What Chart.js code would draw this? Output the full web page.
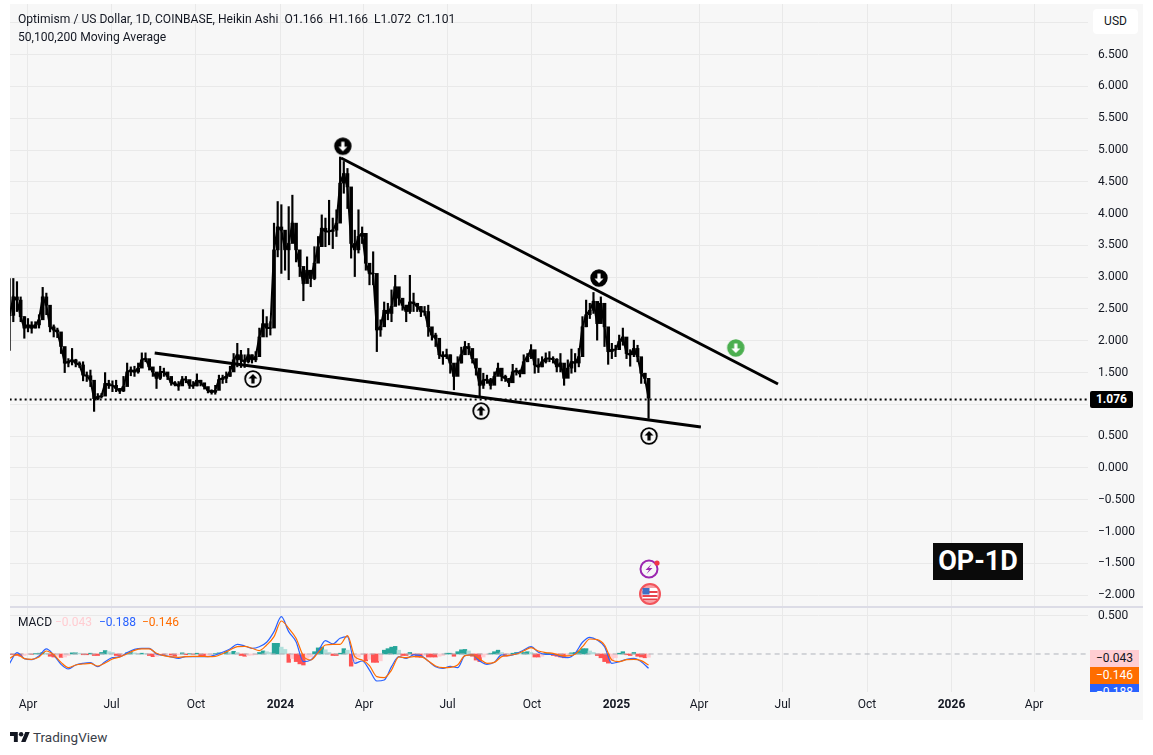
<!DOCTYPE html>
<html>
<head>
<meta charset="utf-8">
<title>OP-1D</title>
<script src="https://cdn.jsdelivr.net/npm/chart.js@4"></script>
<style>
  html, body { margin: 0; padding: 0; background: #fff; overflow: hidden; }
  body { width: 1153px; height: 755px; position: relative; font: 12px Roboto, sans-serif; color: #131722; }
  .abs { position: absolute; white-space: pre; }
  #pane { left: 10px; top: 4px; width: 1133px; height: 716px; background: #f7f7f7; }
  #priceBox { left: 10px; top: 4px; width: 1133px; height: 603px; }
  #macdBox { left: 10px; top: 607px; width: 1133px; height: 113px; }
  #divider { left: 10px; top: 606px; width: 1133px; height: 2px; background: #dcdce6; }
  #usd { left: 1093px; top: 9px; width: 45px; height: 25px; line-height: 25px; background: #fff; border-radius: 4px; text-align: center; }
  #lastTag { left: 1090px; top: 391px; width: 43px; height: 17px; line-height: 17px; background: #000; color: #fff; font-weight: 700; text-align: center; border-radius: 2px; }
  #opTag { left: 933px; top: 543px; width: 90px; height: 37px; line-height: 37px; background: #0a0a0a; color: #fff; font-size: 27px; font-weight: 700; text-align: center; }
  .macdTag { left: 1090px; width: 49px; height: 17px; line-height: 17px; text-align: center; }
  #macdClip { left: 0; top: 0; width: 1153px; height: 692px; overflow: hidden; }
</style>
</head>
<body>
<div class="abs" id="pane"></div>
<div class="abs" id="priceBox"><canvas id="priceChart"></canvas></div>
<div class="abs" id="macdBox"><canvas id="macdChart"></canvas></div>
<div class="abs" id="divider"></div>

<div class="abs" style="left:18px;top:12px;font-size:12.1px;">Optimism / US Dollar, 1D, COINBASE, Heikin Ashi  O1.166  H1.166  L1.072  C1.101</div>
<div class="abs" style="left:18px;top:30px;font-size:12.1px;">50,100,200 Moving Average</div>
<div class="abs" style="left:18px;top:615px;">MACD</div>
<div class="abs" style="left:55px;top:615px;color:#ffcdd2;">−0.043</div>
<div class="abs" style="left:99px;top:615px;color:#2962ff;">−0.188</div>
<div class="abs" style="left:142px;top:615px;color:#ff6d00;">−0.146</div>

<div class="abs" id="usd">USD</div>
<div class="abs" id="lastTag">1.076</div>
<div class="abs" id="opTag">OP-1D</div>
<div class="abs" id="macdClip">
  <div class="abs macdTag" style="top:650px;background:#ffcdd2;">−0.043</div>
  <div class="abs macdTag" style="top:667px;background:#ff6d00;color:#fff;">−0.146</div>
  <div class="abs macdTag" style="top:684px;background:#2962ff;color:#fff;">−0.188</div>
</div>

<svg class="abs" style="left:639px;top:558px;" width="24" height="24" viewBox="0 0 24 24">
  <circle cx="10" cy="11" r="8.5" fill="none" stroke="#9c27b0" stroke-width="2"/>
  <path d="M12.5 6 L6.5 12 H10 L7.5 16 L13.5 10 H10 Z" fill="#9c27b0"/>
  <circle cx="18" cy="5" r="2.6" fill="#f23645"/>
</svg>
<svg class="abs" style="left:638px;top:583px;" width="24" height="24" viewBox="0 0 24 24">
  <circle cx="12" cy="11" r="10" fill="#f7a1a6" stroke="#f2545b" stroke-width="2"/>
  <rect x="4.5" y="5" width="15" height="12" rx="2" fill="#fff"/>
  <path d="M4.5 8h15v2h-15zM4.5 12h15v2h-15zM5 15.5h14v1.5h-14z" fill="#e8434c"/>
  <rect x="4.5" y="5" width="7" height="6.5" fill="#3f6fc4"/>
</svg>

<svg class="abs" style="left:10px;top:732px;" width="20" height="10" viewBox="0 4 36 18">
  <path d="M14 22H7V11H0V4h14v18zM28 22h-8l7.5-18h8L28 22z" fill="#131722"/>
  <circle cx="20" cy="8" r="4" fill="#131722"/>
</svg>
<div class="abs" style="left:33px;top:729px;font-size:13.5px;color:#3a3e48;">TradingView</div>

<script>
// day numbers count from 1 Apr 2023
const firstCandleDay = -20;
const candleStepDays = 4;

const candleHigh = [
  2.98, 2.98, 2.93, 2.69, 2.38, 2.35, 2.30, 2.30, 2.41, 2.84, 2.75, 2.38, 2.25, 2.20, 2.09, 1.78, 1.72, 1.88, 1.71, 1.67,
  1.67, 1.51, 1.54, 1.33, 1.17, 1.17, 1.50, 1.38, 1.37, 1.38, 1.25, 1.44, 1.65, 1.59, 1.60, 1.65, 1.81, 1.81, 1.65, 1.57,
  1.49, 1.60, 1.57, 1.49, 1.38, 1.36, 1.36, 1.44, 1.44, 1.36, 1.36, 1.48, 1.38, 1.32, 1.27, 1.23, 1.30, 1.46, 1.46, 1.51,
  1.60, 1.80, 1.96, 1.85, 1.78, 1.88, 1.78, 1.83, 2.20, 2.49, 2.38, 2.30, 3.85, 4.19, 4.14, 3.69, 4.11, 4.29, 3.64, 3.32,
  3.11, 3.32, 3.06, 3.48, 3.64, 3.98, 3.93, 4.21, 3.93, 4.06, 4.89, 4.82, 4.71, 3.98, 3.74, 4.06, 3.79, 3.48, 3.17, 3.40,
  2.54, 2.33, 2.61, 2.59, 2.80, 3.03, 2.80, 2.64, 2.56, 3.03, 2.75, 2.59, 2.54, 2.54, 2.56, 2.17, 2.12, 1.86, 1.83, 1.87,
  1.78, 1.59, 1.75, 1.90, 1.99, 1.96, 1.78, 1.67, 1.49, 1.49, 1.46, 1.41, 1.51, 1.65, 1.51, 1.46, 1.41, 1.63, 1.57, 1.54,
  1.78, 1.80, 1.94, 1.75, 1.72, 1.75, 1.81, 1.83, 1.75, 1.72, 1.80, 1.54, 1.70, 1.87, 1.80, 1.88, 2.38, 2.64, 2.59, 2.76,
  2.48, 2.69, 2.54, 1.96, 1.96, 1.93, 2.09, 2.20, 1.88, 1.86, 2.01, 1.93, 1.65, 1.49, 1.33
];
const candleLow = [
  1.85, 2.30, 2.46, 2.30, 2.04, 2.14, 2.12, 2.20, 2.20, 2.38, 2.41, 2.14, 2.06, 2.05, 1.80, 1.50, 1.59, 1.62, 1.59, 1.58,
  1.37, 1.36, 1.28, 0.89, 1.07, 1.10, 1.20, 1.25, 1.20, 1.20, 1.17, 1.20, 1.36, 1.45, 1.44, 1.49, 1.58, 1.67, 1.54, 1.44,
  1.25, 1.39, 1.44, 1.39, 1.30, 1.29, 1.22, 1.33, 1.34, 1.25, 1.25, 1.29, 1.29, 1.24, 1.18, 1.16, 1.16, 1.32, 1.33, 1.34,
  1.44, 1.58, 1.59, 1.58, 1.58, 1.65, 1.65, 1.67, 1.78, 2.09, 2.06, 2.09, 2.69, 3.32, 3.06, 3.11, 2.96, 3.58, 3.24, 3.01,
  2.63, 2.96, 2.85, 2.96, 3.27, 3.53, 3.48, 3.51, 3.45, 3.64, 3.90, 4.32, 4.08, 3.30, 3.01, 3.38, 3.53, 3.11, 2.88, 2.88,
  1.83, 2.07, 2.33, 2.33, 2.30, 2.59, 2.56, 2.48, 2.30, 2.43, 2.46, 2.46, 2.38, 2.40, 2.07, 2.01, 1.91, 1.72, 1.63, 1.72,
  1.49, 1.23, 1.46, 1.65, 1.83, 1.78, 1.65, 1.46, 1.12, 1.25, 1.33, 1.24, 1.34, 1.49, 1.37, 1.36, 1.28, 1.37, 1.46, 1.43,
  1.54, 1.67, 1.72, 1.49, 1.50, 1.59, 1.65, 1.67, 1.65, 1.51, 1.51, 1.30, 1.44, 1.49, 1.51, 1.59, 1.80, 2.22, 2.35, 2.43,
  2.01, 2.41, 1.91, 1.63, 1.72, 1.75, 1.86, 1.93, 1.72, 1.60, 1.75, 1.67, 1.33, 1.33, 0.78
];
const candleClose = [
  2.40, 2.69, 2.64, 2.38, 2.20, 2.25, 2.20, 2.25, 2.33, 2.69, 2.56, 2.22, 2.17, 2.14, 1.91, 1.65, 1.67, 1.70, 1.65, 1.62,
  1.46, 1.45, 1.38, 1.09, 1.12, 1.13, 1.33, 1.30, 1.30, 1.25, 1.21, 1.28, 1.51, 1.54, 1.51, 1.57, 1.70, 1.72, 1.59, 1.51,
  1.41, 1.51, 1.51, 1.44, 1.34, 1.32, 1.29, 1.39, 1.39, 1.30, 1.29, 1.38, 1.34, 1.28, 1.22, 1.19, 1.22, 1.39, 1.41, 1.44,
  1.51, 1.70, 1.78, 1.70, 1.67, 1.78, 1.70, 1.75, 2.06, 2.27, 2.20, 2.20, 3.43, 3.79, 3.74, 3.43, 3.53, 3.85, 3.43, 3.17,
  2.90, 3.11, 2.98, 3.22, 3.48, 3.77, 3.72, 3.72, 3.74, 3.85, 4.48, 4.63, 4.42, 3.53, 3.43, 3.64, 3.69, 3.22, 3.06, 3.06,
  2.17, 2.22, 2.48, 2.43, 2.54, 2.85, 2.67, 2.56, 2.46, 2.61, 2.59, 2.54, 2.46, 2.46, 2.22, 2.09, 2.04, 1.78, 1.75, 1.78,
  1.65, 1.44, 1.65, 1.78, 1.91, 1.88, 1.72, 1.57, 1.30, 1.38, 1.39, 1.30, 1.44, 1.57, 1.44, 1.41, 1.34, 1.51, 1.53, 1.48,
  1.67, 1.75, 1.86, 1.62, 1.59, 1.67, 1.72, 1.72, 1.71, 1.59, 1.65, 1.41, 1.57, 1.67, 1.65, 1.75, 2.22, 2.41, 2.48, 2.62,
  2.27, 2.59, 2.22, 1.83, 1.86, 1.86, 1.99, 2.06, 1.80, 1.78, 1.88, 1.75, 1.49, 1.41, 1.10
];

const lastPrice = 1.076;
const lastPriceDays = [-20, 1160];

const resistanceDays = [341, 817];
const resistancePrices = [4.874, 1.321];
const supportDays = [138, 733];
const supportPrices = [1.808, 0.645];

const upSignalDays = [245, 493.5, 676.5];
const upSignalPrices = [1.40, 0.896, 0.503];
const downSignalDays = [343, 622];
const downSignalPrices = [5.06, 2.987];
const greenSignalDays = [771];
const greenSignalPrices = [1.887];

const priceTicks = [7, 6.5, 6, 5.5, 5, 4.5, 4, 3.5, 3, 2.5, 2, 1.5, 1, 0.5, 0, -0.5, -1, -1.5, -2];
const macdTicks = [0.5];

const monthTickDays = [0, 91, 183, 275, 366, 457, 549, 641, 731, 822, 914, 1006, 1096];
const monthTickLabels = ['Apr', 'Jul', 'Oct', '2024', 'Apr', 'Jul', 'Oct', '2025', 'Apr', 'Jul', 'Oct', '2026', 'Apr'];
const boldTickLabels = ['2024', '2025', '2026'];

const macdStepDays = 8;
const macdLine = [
  -0.123, 0.018, -0.061, -0.075, -0.026, 0.066, -0.013, -0.136, -0.197, -0.145, -0.123, -0.114, -0.167, -0.101, -0.048,
  -0.039, 0.018, 0.061, 0.075, 0.075, 0, -0.018, -0.039, -0.057, -0.035, -0.035, -0.035, -0.035, -0.013, 0.022,
  0.066, 0.127, 0.105, 0.075, 0.096, 0.154, 0.294, 0.491, 0.294, 0.162, -0.101, -0.079, 0.031, 0.175, 0.132,
  0.206, 0.228, -0.123, -0.092, -0.211, -0.355, -0.342, -0.167, -0.035, -0.057, -0.013, -0.022, -0.092, -0.167, -0.189,
  -0.162, -0.180, -0.022, -0.013, -0.092, -0.136, -0.110, -0.013, -0.022, 0.004, 0.053, 0.096, 0.022, -0.004, -0.004,
  -0.035, -0.048, 0.009, 0.154, 0.219, 0.184, 0.096, -0.123, -0.101, -0.070, -0.057, -0.101, -0.188
];
const signalLine = [
  -0.057, -0.004, -0.061, -0.070, -0.039, 0.039, -0.009, -0.110, -0.180, -0.145, -0.132, -0.123, -0.158, -0.118, -0.066,
  -0.039, 0.004, 0.048, 0.066, 0.066, 0.009, -0.022, -0.039, -0.044, -0.035, -0.031, -0.031, -0.035, -0.031, 0.004,
  0.053, 0.096, 0.101, 0.075, 0.044, 0.118, 0.228, 0.434, 0.338, 0.206, -0.026, -0.079, 0.018, 0.118, 0.127,
  0.127, 0.241, -0.035, -0.079, -0.154, -0.298, -0.311, -0.211, -0.039, -0.048, -0.035, -0.035, -0.092, -0.158, -0.180,
  -0.175, -0.145, -0.022, -0.013, -0.066, -0.123, -0.110, -0.035, -0.018, 0, 0.039, 0.083, 0.039, 0.018, 0.009,
  -0.022, -0.026, -0.004, 0.096, 0.197, 0.189, 0.118, -0.079, -0.101, -0.075, -0.070, -0.088, -0.146
];
const macdHist = [
  -0.01, -0.01, -0.02, -0.03, -0.02, -0.005, -0.005, 0.005, 0.01, 0.02, 0.01, -0.03, -0.04, -0.03, -0.045, -0.04, -0.02, 0.015, 0.015, 0.01,
  -0.01, -0.01, 0.01, -0.02, -0.02, 0.02, 0.045, 0.03, 0.02, -0.02, -0.03, -0.025, 0.015, 0.02, 0.015, 0.005, 0.01, 0.005, -0.02, -0.035,
  -0.03, -0.01, -0.01, -0.005, -0.015, -0.03, -0.01, 0.015, -0.01, 0.005, -0.005, 0.01, -0.03, -0.03, -0.02, -0.01, 0.005, 0.015, 0.01, 0.03,
  0.02, 0.035, 0.02, -0.02, -0.03, -0.02, -0.015, -0.01, 0.02, 0.04, 0.03, 0.02, 0.14, 0.14, 0.09, 0.06, -0.11, -0.06, -0.10, -0.13,
  -0.145, -0.06, -0.04, 0.03, 0.08, 0.09, 0.055, 0.02, -0.02, -0.02, 0.01, 0.07, 0.05, -0.16, -0.10, -0.04, -0.01, -0.09, -0.07, -0.11,
  -0.11, -0.09, 0.05, 0.07, 0.09, 0.10, 0.05, -0.02, -0.02, 0.02, -0.01, -0.04, -0.045, -0.02, -0.04, -0.04, -0.04, -0.03, -0.02, 0.01,
  0.01, -0.03, 0.03, 0.055, 0.06, 0.04, -0.03, -0.08, -0.10, -0.04, -0.01, 0.01, 0.03, 0.05, 0.02, -0.03, -0.02, 0.01, 0.02, 0.015,
  0.02, 0.03, 0.02, -0.04, -0.04, -0.03, 0.01, 0.01, -0.02, -0.03, -0.04, -0.05, -0.03, 0.015, 0.02, 0.04, 0.07, 0.07, 0.04, 0.02,
  -0.02, -0.05, -0.10, -0.12, -0.09, -0.05, 0.01, 0.03, -0.01, -0.02, 0.02, -0.03, -0.04, -0.05, -0.043
];

const gridColor = '#e9e9e9';
const tickFont = { family: 'Roboto, sans-serif', size: 12 };

function pairs(xs, ys) {
  return xs.map((x, i) => ({ x, y: ys[i] }));
}

function makeIcon(ring, fill, arrow, direction) {
  const size = 20;
  const icon = document.createElement('canvas');
  icon.width = size;
  icon.height = size;
  const ctx = icon.getContext('2d');
  ctx.translate(size / 2, size / 2);
  ctx.beginPath();
  ctx.arc(0, 0, 7.8, 0, Math.PI * 2);
  ctx.fillStyle = fill;
  ctx.fill();
  ctx.lineWidth = 1.8;
  ctx.strokeStyle = ring;
  ctx.stroke();
  ctx.scale(1, direction);
  ctx.fillStyle = arrow;
  ctx.beginPath();
  ctx.moveTo(0, -5);
  ctx.lineTo(4.5, -0.5);
  ctx.lineTo(1.6, -0.5);
  ctx.lineTo(1.6, 4.5);
  ctx.lineTo(-1.6, 4.5);
  ctx.lineTo(-1.6, -0.5);
  ctx.lineTo(-4.5, -0.5);
  ctx.closePath();
  ctx.fill();
  return icon;
}

function histColor(ctx) {
  const i = ctx.dataIndex;
  const value = macdHist[i];
  const prev = i > 0 ? macdHist[i - 1] : 0;
  if (value >= 0) return value >= prev ? '#26a69a' : '#b2dfdb';
  return value <= prev ? '#ff5252' : '#ffcdd2';
}

// the label margins chart.js reserves would move the plot off its pixel grid
function dropPadding(axis) {
  axis.paddingLeft = 0;
  axis.paddingRight = 0;
  axis.paddingTop = 0;
  axis.paddingBottom = 0;
}

// both panes share this x axis, only the lower one prints the labels
function timeAxis(showLabels) {
  return {
    type: 'linear',
    offset: false,
    min: -19.6,
    max: 1154.7,
    afterBuildTicks(axis) {
      axis.ticks = monthTickDays.map((value) => ({ value }));
    },
    afterFit(axis) {
      axis.height = showLabels ? 28 : 0;
      dropPadding(axis);
    },
    border: { display: false },
    grid: { color: gridColor, drawTicks: false, offset: false },
    ticks: {
      display: showLabels,
      autoSkip: false,
      maxRotation: 0,
      padding: 6,
      color: '#131722',
      font(ctx) {
        const label = monthTickLabels[ctx.index];
        return { ...tickFont, weight: boldTickLabels.includes(label) ? '700' : '400' };
      },
      callback(value, index) {
        return monthTickLabels[index];
      }
    }
  };
}

function valueAxis(min, max, values) {
  return {
    position: 'right',
    min,
    max,
    afterBuildTicks(axis) {
      axis.ticks = values.map((value) => ({ value }));
    },
    afterFit(axis) {
      axis.width = 55;
      dropPadding(axis);
    },
    border: { display: false },
    grid: { color: gridColor, drawTicks: false },
    ticks: {
      autoSkip: false,
      crossAlign: 'near',
      padding: 10,
      color: '#131722',
      font: tickFont,
      callback(value) {
        return value.toFixed(3).replace('-', '−');
      }
    }
  };
}

const commonOptions = {
  responsive: true,
  maintainAspectRatio: false,
  animation: false,
  events: [],
  layout: { padding: 0, autoPadding: false },
  plugins: { legend: { display: false }, tooltip: { enabled: false } }
};

Chart.defaults.font.family = 'Roboto, sans-serif';

const candleDays = candleClose.map((_, i) => firstCandleDay + i * candleStepDays);
const macdDays = macdLine.map((_, i) => firstCandleDay + i * macdStepDays);
const histDays = macdHist.map((_, i) => firstCandleDay + i * candleStepDays);
const zeroDays = lastPriceDays;

const priceChart = new Chart(document.getElementById('priceChart').getContext('2d'), {
  type: 'bar',
  data: {
    datasets: [
      {
        label: 'Range',
        data: candleDays.map((x, i) => ({ x, y: [candleLow[i], candleHigh[i]] })),
        backgroundColor: '#000',
        barThickness: 1.5,
        grouped: false,
        order: 6
      },
      {
        // heikin ashi bodies open about where the previous candle closed
        label: 'Body',
        data: candleDays.map((x, i) => ({ x, y: [candleClose[Math.max(i - 1, 0)], candleClose[i]] })),
        backgroundColor: '#000',
        barThickness: 3,
        grouped: false,
        order: 5
      },
      {
        type: 'line',
        label: 'Close',
        data: pairs(candleDays, candleClose),
        borderColor: '#000',
        borderWidth: 2,
        pointRadius: 0,
        order: 4
      },
      {
        type: 'line',
        label: 'Last price',
        data: lastPriceDays.map((x) => ({ x, y: lastPrice })),
        borderColor: '#000',
        borderWidth: 2,
        borderDash: [2, 3],
        pointRadius: 0,
        order: 3
      },
      {
        type: 'line',
        label: 'Resistance',
        data: pairs(resistanceDays, resistancePrices),
        borderColor: '#000',
        borderWidth: 3,
        pointRadius: 0,
        order: 2
      },
      {
        type: 'line',
        label: 'Support',
        data: pairs(supportDays, supportPrices),
        borderColor: '#000',
        borderWidth: 3,
        pointRadius: 0,
        order: 2
      },
      {
        type: 'line',
        label: 'Up signals',
        data: pairs(upSignalDays, upSignalPrices),
        showLine: false,
        pointStyle: makeIcon('#000', '#f7f7f7', '#000', 1),
        pointRadius: 10,
        order: 1
      },
      {
        type: 'line',
        label: 'Down signals',
        data: pairs(downSignalDays, downSignalPrices),
        showLine: false,
        pointStyle: makeIcon('#000', '#000', '#fff', -1),
        pointRadius: 10,
        order: 1
      },
      {
        type: 'line',
        label: 'Green signal',
        data: pairs(greenSignalDays, greenSignalPrices),
        showLine: false,
        pointStyle: makeIcon('#4caf50', '#4caf50', '#fff', -1),
        pointRadius: 10,
        order: 1
      }
    ]
  },
  options: {
    ...commonOptions,
    scales: {
      x: timeAxis(false),
      y: valueAxis(-2.186, 7.296, priceTicks)
    }
  }
});

const macdChart = new Chart(document.getElementById('macdChart').getContext('2d'), {
  type: 'bar',
  data: {
    datasets: [
      {
        label: 'Histogram',
        data: pairs(histDays, macdHist),
        backgroundColor: histColor,
        barThickness: 3.7,
        order: 4
      },
      {
        type: 'line',
        label: 'Zero',
        data: zeroDays.map((x) => ({ x, y: 0 })),
        borderColor: '#b0b3bb',
        borderWidth: 1,
        borderDash: [5, 4],
        pointRadius: 0,
        order: 3
      },
      {
        type: 'line',
        label: 'MACD',
        data: pairs(macdDays, macdLine),
        borderColor: '#2962ff',
        borderWidth: 1.2,
        pointRadius: 0,
        cubicInterpolationMode: 'monotone',
        order: 2
      },
      {
        type: 'line',
        label: 'Signal',
        data: pairs(macdDays, signalLine),
        borderColor: '#ff6d00',
        borderWidth: 1.2,
        pointRadius: 0,
        cubicInterpolationMode: 'monotone',
        order: 1
      }
    ]
  },
  options: {
    ...commonOptions,
    scales: {
      x: timeAxis(true),
      y: valueAxis(-0.5, 0.618, macdTicks)
    }
  }
});
</script>
</body>
</html>
